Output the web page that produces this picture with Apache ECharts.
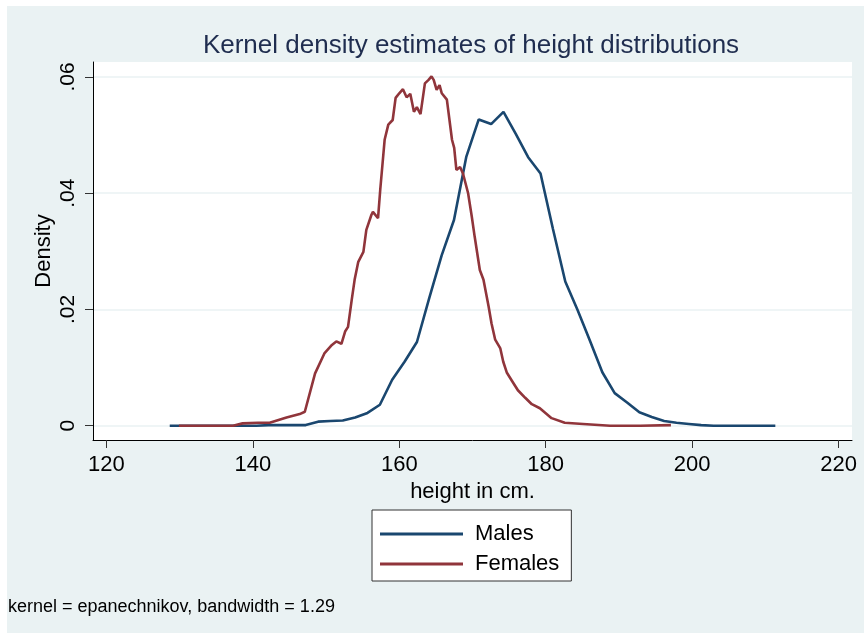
<!DOCTYPE html>
<html>
<head>
<meta charset="utf-8">
<script src="https://cdn.jsdelivr.net/npm/echarts@6/dist/echarts.min.js"></script>
<style>
html, body { margin: 0; padding: 0; background: #fff; }
#chart { width: 864px; height: 633px; }
</style>
</head>
<body>
<div id="chart"></div>
<script>
// values
var maleHeight = [128.65, 130.34, 132.03, 133.71, 135.40, 137.09, 138.78, 140.47, 142.15, 143.84,
  145.53, 147.22, 148.91, 150.59, 152.28, 153.97, 155.66, 157.35, 159.03, 160.72,
  162.41, 164.10, 165.79, 167.47, 169.16, 170.85, 172.54, 174.23, 175.91, 177.60,
  179.29, 180.98, 182.67, 184.35, 186.04, 187.73, 189.42, 191.11, 192.79, 194.48,
  196.17, 197.86, 199.55, 201.23, 202.92, 204.61, 206.30, 207.99, 209.67, 211.36]
var maleDensity = [0, 0, 0, 0, 0, 0, 0, 0, 0.0001, 0.0001,
  0.0001, 0.0001, 0.0007, 0.0008, 0.0009, 0.0014, 0.0022, 0.0036, 0.0079, 0.0110,
  0.0144, 0.0220, 0.0293, 0.0354, 0.0463, 0.0527, 0.0519, 0.0540, 0.0502, 0.0462,
  0.0434, 0.0339, 0.0248, 0.0199, 0.0146, 0.0092, 0.0056, 0.0040, 0.0023, 0.0015,
  0.0008, 0.0005, 0.0003, 0.0001, 0, 0, 0, 0, 0, 0]

var femaleHeight = [129.9, 137.3, 138.6, 140.7, 142.3, 144.6, 146.4, 147.1, 148.5, 149.8,
  150.8, 151.4, 152.1, 152.6, 153.0, 153.5, 153.9, 154.4, 155.1, 155.5,
  156.2, 156.4, 157.1, 157.4, 158.0, 158.5, 159.1, 159.5, 160.0, 160.5,
  161.0, 161.5, 162.0, 162.4, 162.9, 163.5, 164.0, 164.4, 164.7, 165.1,
  165.5, 165.8, 166.5, 167.2, 167.5, 167.8, 168.3, 168.7, 169.4, 169.9,
  170.3, 171.0, 171.5, 172.2, 172.6, 173.1, 173.8, 174.2, 174.7, 175.4,
  176.2, 177.2, 178.1, 179.2, 180.8, 182.6, 185.1, 188.8, 192.9, 197.1]
var femaleDensity = [0, 0, 0.0004, 0.0005, 0.0005, 0.0014, 0.0020, 0.0024, 0.0090, 0.0125,
  0.0139, 0.0145, 0.0141, 0.0162, 0.0170, 0.0216, 0.0251, 0.0282, 0.0299, 0.0337,
  0.0363, 0.0368, 0.0357, 0.0406, 0.0492, 0.0518, 0.0526, 0.0564, 0.0572, 0.0579,
  0.0565, 0.0571, 0.0540, 0.0548, 0.0536, 0.0589, 0.0595, 0.0601, 0.0595, 0.0578,
  0.0586, 0.0572, 0.0561, 0.0492, 0.0478, 0.0440, 0.0445, 0.0434, 0.0400, 0.0360,
  0.0325, 0.0268, 0.0251, 0.0205, 0.0176, 0.0148, 0.0133, 0.0110, 0.0091, 0.0077,
  0.0061, 0.0048, 0.0037, 0.0030, 0.0013, 0.0005, 0.0003, 0, 0, 0.0001]

var xTicks = [120, 140, 160, 180, 200, 220]
var yTicks = [0, 0.02, 0.04, 0.06]

function pairs (xs, ys) {
  var out = []
  for (var i = 0; i < xs.length; i++) out.push([xs[i], ys[i]])
  return out
}

var font = "'Liberation Sans', Arial, sans-serif"
var chart = echarts.init(document.getElementById('chart'))

chart.setOption({
  animation: false,
  backgroundColor: '#fff',
  textStyle: { fontFamily: font },
  graphic: [
    {
      type: 'rect',
      left: 7,
      top: 6,
      z: -10,
      shape: { width: 857, height: 627 },
      style: { fill: '#eaf2f3' }
    },
    {
      type: 'text',
      x: 471,
      y: 46,
      style: {
        text: 'Kernel density estimates of height distributions',
        font: '26px ' + font,
        fill: '#1f2d4f',
        textAlign: 'center',
        textVerticalAlign: 'middle'
      }
    },
    {
      type: 'text',
      x: 8,
      y: 607,
      style: {
        text: 'kernel = epanechnikov, bandwidth = 1.29',
        font: '18px ' + font,
        fill: '#000',
        textVerticalAlign: 'middle'
      }
    }
  ],
  grid: {
    left: 93,
    top: 62,
    right: 12,
    bottom: 193,
    show: true,
    backgroundColor: '#fff',
    borderWidth: 0
  },
  legend: {
    orient: 'vertical',
    left: 372,
    top: 510,
    padding: [13, 12, 6, 8],
    itemGap: 8,
    itemWidth: 83,
    itemHeight: 3,
    icon: 'rect',
    backgroundColor: '#fff',
    borderColor: '#333',
    borderWidth: 1,
    textStyle: { fontSize: 22, color: '#000', padding: [0, 0, 0, 7] },
    data: ['Males', 'Females']
  },
  xAxis: {
    type: 'value',
    min: 118.17,
    max: 221.83,
    name: 'height in cm.',
    nameLocation: 'middle',
    nameGap: 37,
    nameTextStyle: { fontSize: 22, color: '#000' },
    axisLine: { onZero: false, lineStyle: { color: '#000', width: 1 } },
    axisTick: { show: true, length: 8, customValues: xTicks, lineStyle: { color: '#333' } },
    axisLabel: { customValues: xTicks, fontSize: 22, color: '#000', margin: 14 },
    splitLine: { show: false }
  },
  yAxis: {
    type: 'value',
    min: -0.00246,
    max: 0.06258,
    name: 'Density',
    nameLocation: 'middle',
    nameGap: 38,
    nameMoveOverlap: false,
    nameTextStyle: { fontSize: 22, color: '#000' },
    axisLine: { show: true, onZero: false, lineStyle: { color: '#000', width: 1 } },
    axisTick: { show: true, length: 8, customValues: yTicks, lineStyle: { color: '#333' } },
    axisLabel: {
      customValues: yTicks,
      rotate: 90,
      fontSize: 21,
      color: '#000',
      margin: 14,
      formatter: function (v) { return v === 0 ? '0' : String(v).replace(/^0/, '') }
    },
    splitLine: { show: true, lineStyle: { color: '#eaf2f3', width: 1.5 } }
  },
  series: [
    {
      name: 'Males',
      type: 'line',
      symbol: 'none',
      data: pairs(maleHeight, maleDensity),
      color: '#1a476f',
      lineStyle: { width: 2.6, color: '#1a476f' }
    },
    {
      name: 'Females',
      type: 'line',
      symbol: 'none',
      data: pairs(femaleHeight, femaleDensity),
      color: '#90353b',
      lineStyle: { width: 2.6, color: '#90353b' }
    }
  ]
})
</script>
</body>
</html>
